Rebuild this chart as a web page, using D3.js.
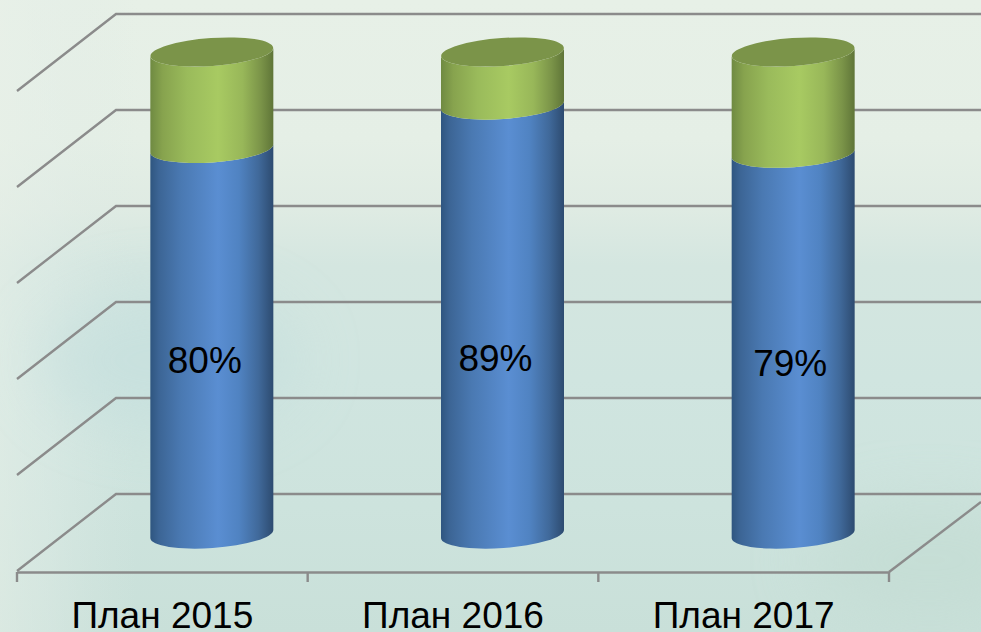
<!DOCTYPE html>
<html><head><meta charset="utf-8">
<script src="https://cdn.jsdelivr.net/npm/d3@7"></script>
<style>html,body{margin:0;padding:0;background:#dce9e2;overflow:hidden}svg{display:block}text{font-family:"Liberation Sans",Arial,sans-serif;fill:#000}</style>
</head><body><svg id="c" width="981" height="632"></svg>
<script>
const categories = ["План 2015", "План 2016", "План 2017"];
const blueValues = [80, 89, 79];
const greenValues = [20, 11, 21];
const blueLabels = ["80%", "89%", "79%"];
const gridValues = [0, 20, 40, 60, 80, 100];

const W = 981, H = 632;
const svg = d3.select("#c");
const defs = svg.append("defs");

function lin(id, attrs, stops){
  const g = defs.append("linearGradient").attr("id", id);
  Object.entries(attrs).forEach(([k,v])=>g.attr(k,v));
  stops.forEach(s=>g.append("stop").attr("offset",s[0]).attr("stop-color",s[1]).attr("stop-opacity",s[2]===undefined?1:s[2]));
}
lin("bg",{x1:0,y1:0,x2:0,y2:1},[[0,"#e7f0e7"],[0.22,"#e5efe6"],[0.33,"#dfebe3"],[0.42,"#d4e6e0"],[0.6,"#d0e5e0"],[0.8,"#cde3dd"],[1,"#c9e0d9"]]);
lin("bgL",{x1:0,y1:0,x2:1,y2:0},[[0,"#e8f0e8",0.55],[0.05,"#e4eee8",0.4],[0.14,"#dce9e3",0]]);
lin("blue",{x1:0,y1:0,x2:1,y2:0},[[0,"#2f5680"],[0.07,"#3c6595"],[0.25,"#4a79b2"],[0.55,"#5a8ed2"],[0.72,"#5083c2"],[0.88,"#40699a"],[1,"#2d4b70"]]);
lin("green",{x1:0,y1:0,x2:1,y2:0},[[0,"#6f8a42"],[0.1,"#87a34e"],[0.3,"#9abb5b"],[0.55,"#a8ca62"],[0.75,"#98b759"],[0.9,"#7a9348"],[1,"#5f7538"]]);
defs.append("filter").attr("id","soft").attr("x","-50%").attr("y","-50%").attr("width","200%").attr("height","200%")
  .append("feGaussianBlur").attr("stdDeviation",30);

svg.append("rect").attr("width",W).attr("height",H).attr("fill","url(#bg)");
svg.append("rect").attr("width",W).attr("height",H).attr("fill","url(#bgL)");
// soft tints of the photographic backdrop
svg.append("ellipse").attr("cx",170).attr("cy",360).attr("rx",130).attr("ry",70).attr("fill","#c2dedd").attr("opacity",0.55).attr("filter","url(#soft)");
svg.append("ellipse").attr("cx",930).attr("cy",560).attr("rx",120).attr("ry",60).attr("fill","#c2dbd2").attr("opacity",0.6).attr("filter","url(#soft)");

const x = d3.scaleBand().domain(categories).range([17, 889]);
const wallY = d3.scaleLinear().domain([0, 100]).range([494, 14]);
const depthX = 99, depthY = 77;
const barY = d3.scaleLinear().domain([0, 100]).range([534, 52]);

const gridColor = "#8b8b8b";
const grid = svg.append("g").attr("stroke", gridColor).attr("stroke-width", 2.4).attr("fill","none");
grid.selectAll("path").data(gridValues).join("path")
  .attr("d", d => `M${17},${wallY(d)+depthY}L${17+depthX},${wallY(d)}L${W},${wallY(d)}`);
grid.append("line").attr("x1",889).attr("y1",572).attr("x2",W).attr("y2",502);

const axis = svg.append("g").attr("transform","translate(0,572)")
  .call(d3.axisBottom(x).tickValues([]).tickSize(0));
axis.select(".domain").attr("stroke",gridColor).attr("stroke-width",2.4);
const tickPos = categories.map(c=>x(c)).concat([x(categories[2])+x.bandwidth()]);
axis.selectAll("line.t").data(tickPos).join("line").attr("class","t")
  .attr("x1",d=>d).attr("x2",d=>d).attr("y1",0).attr("y2",10)
  .attr("stroke",gridColor).attr("stroke-width",2.4);

const rx = 61.5, ry = 14, rot = -4;
const barShift = 49.5;
const dyEdge = rx*Math.sin(rot*Math.PI/180);
function seg(cx, y0, y1){
  const xl=cx-rx, xr=cx+rx, dy=-dyEdge;
  return `M${xl},${y1+dy}L${xl},${y0+dy}A${rx},${ry} ${rot} 0 0 ${xr},${y0-dy}L${xr},${y1-dy}A${rx},${ry} ${rot} 0 1 ${xl},${y1+dy}Z`;
}
const bars = svg.append("g");
categories.forEach((c,i)=>{
  const cx = x(c)+x.bandwidth()/2+barShift;
  const yBlue = barY(blueValues[i]);
  const yTop = barY(blueValues[i]+greenValues[i]);
  bars.append("path").attr("d",seg(cx,barY(0),yBlue)).attr("fill","url(#blue)");
  bars.append("path").attr("d",seg(cx,yBlue,yTop)).attr("fill","url(#green)");
  bars.append("ellipse").attr("cx",cx).attr("cy",yTop).attr("rx",rx).attr("ry",ry)
    .attr("transform",`rotate(${rot} ${cx} ${yTop})`).attr("fill","#7b9449");
});

const labelDx = [-7,-7,-3], labelY=[373,371,376];
svg.append("g").selectAll("text").data(blueLabels).join("text")
  .attr("x",(d,i)=>x(categories[i])+x.bandwidth()/2+barShift+labelDx[i])
  .attr("y",(d,i)=>labelY[i]).attr("text-anchor","middle").attr("font-size",37).text(d=>d);
svg.append("g").selectAll("text").data(categories).join("text")
  .attr("x",d=>x(d)+x.bandwidth()/2).attr("y",628).attr("text-anchor","middle").attr("font-size",37).text(d=>d);
</script></body></html>
